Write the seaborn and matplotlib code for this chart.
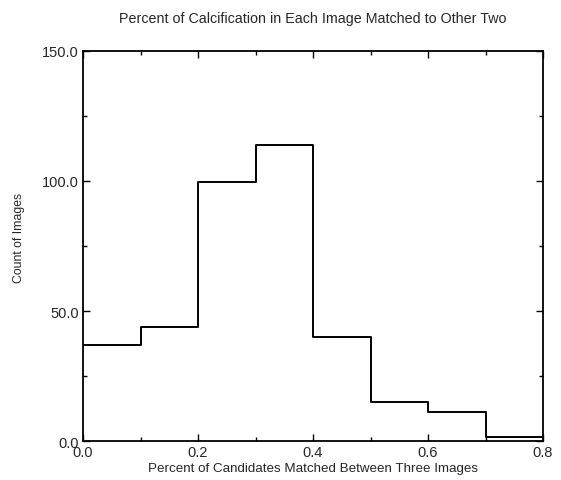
"""Step histogram: percent of calcification matched between three images"""

import matplotlib
matplotlib.use("Agg")
import matplotlib.pyplot as plt
import seaborn as sns
import numpy as np
import pandas as pd

# Histogram data
bin_edges = [0.0, 0.1, 0.2, 0.3, 0.4, 0.5, 0.6, 0.7, 0.8]
bin_counts = [37, 44, 99.5, 114, 40, 15, 11, 1.5]

x_ticks = [0.0, 0.2, 0.4, 0.6, 0.8]
y_ticks = [0, 50, 100, 150]

sns.set_style("ticks")
plt.rcParams['font.family'] = ['Liberation Sans', 'DejaVu Sans']

edges = np.array(bin_edges)
df = pd.DataFrame({
    'center': (edges[:-1] + edges[1:]) / 2,
    'count': bin_counts,
})

fig = plt.figure(figsize=(5.61, 4.81), dpi=100)
ax = fig.add_axes([0.148, 0.081, 0.820, 0.811])

sns.histplot(data=df, x='center', weights='count', bins=bin_edges,
             element='step', fill=False, color='black', linewidth=1.4, ax=ax)

ax.set_xlim(0, 0.8)
ax.set_ylim(0, 150)
ax.set_xticks(x_ticks)
ax.set_xticklabels([f'{v:.1f}' for v in x_ticks])
ax.set_yticks(y_ticks)
ax.set_yticklabels([f'{v:.1f}' for v in y_ticks])
ax.set_xticks(np.arange(0.1, 0.8, 0.2), minor=True)
ax.set_yticks([25, 75, 125], minor=True)

ax.tick_params(which='both', direction='in', top=True, right=True,
               color='black', labelsize=10.5, width=1)
ax.tick_params(which='major', length=5, pad=3)
ax.tick_params(which='minor', length=3)
for spine in ax.spines.values():
    spine.set_visible(True)
    spine.set_linewidth(1.3)
    spine.set_color('black')

ax.set_xlabel('Percent of Candidates Matched Between Three Images',
              fontsize=9.6, labelpad=2)
ax.set_ylabel('Count of Images', fontsize=8.8)
ax.yaxis.set_label_coords(-0.126, 0.524)
ax.set_title('Percent of Calcification in Each Image Matched to Other Two',
             fontsize=10.3, pad=21)

plt.savefig('out.png', dpi=100)
plt.close()
